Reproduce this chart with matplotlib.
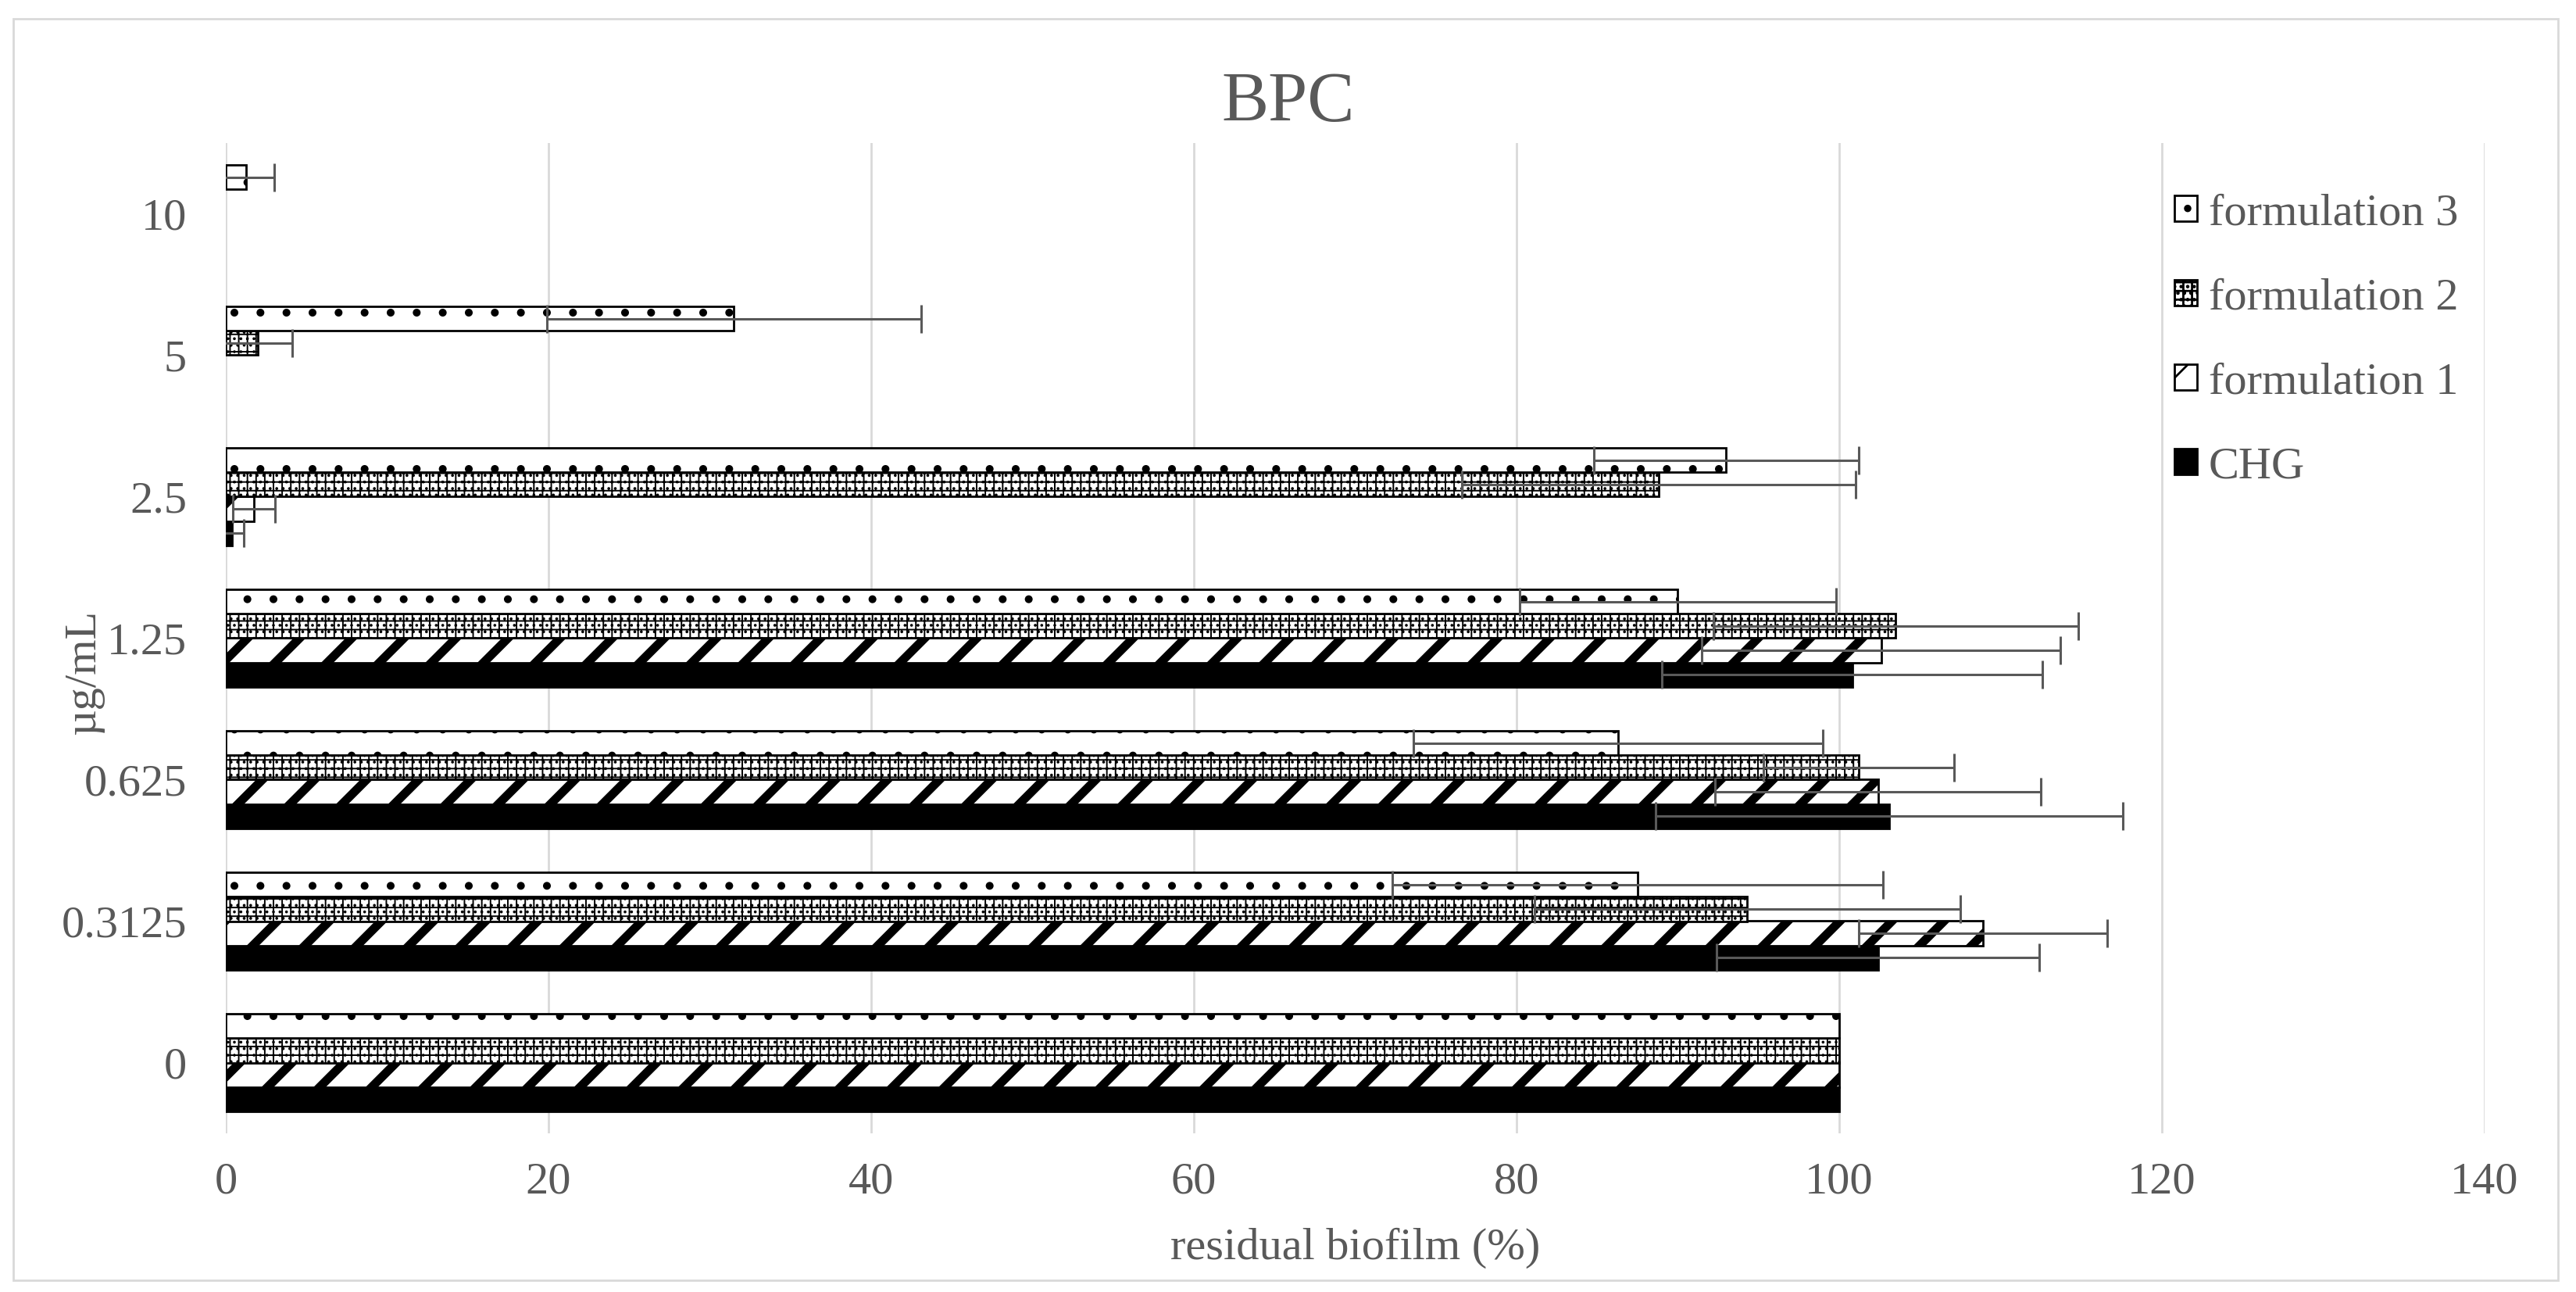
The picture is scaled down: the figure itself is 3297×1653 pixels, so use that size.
import numpy as np
import matplotlib
matplotlib.use('Agg')
import matplotlib.pyplot as plt
from matplotlib.patches import Rectangle

# Data
categories = ['0', '0.3125', '0.625', '1.25', '2.5', '5', '10']
series = ['CHG', 'formulation 1', 'formulation 2', 'formulation 3']
chg = [100, 102.4, 103.1, 100.8, 0.4, 0, 0]
chg_err = [0, 10.0, 14.5, 11.8, 0.7, 0, 0]
f1 = [100, 108.9, 102.4, 102.6, 1.75, 0, 0]
f1_err = [0, 7.7, 10.1, 11.1, 1.3, 0, 0]
f2 = [100, 94.3, 101.2, 103.5, 88.8, 2.0, 0]
f2_err = [0, 13.2, 5.9, 11.3, 12.2, 2.1, 0]
f3 = [100, 87.5, 86.3, 90.0, 93.0, 31.5, 1.25]
f3_err = [0, 15.2, 12.7, 9.8, 8.2, 11.6, 1.75]

values = [chg, f1, f2, f3]
errors = [chg_err, f1_err, f2_err, f3_err]
hatches = [None, '/', '+++....', '.']
hatch_lw = [1.0, 4.0, 0.7, 1.2]
faces = ['black', 'white', 'white', 'white']

txt = '#595959'
plt.rcParams['font.family'] = ['Liberation Serif', 'DejaVu Serif']
fs = 21

W, H = 3298, 1653
fig = plt.figure(figsize=(W / 200, H / 200), dpi=200)
ax = fig.add_axes([289 / W, 1 - 1450 / H, (3180 - 289) / W, (1450 - 183) / H])

y = np.arange(len(categories))
h = 0.172
for i, (vals, errs) in enumerate(zip(values, errors)):
    off = (i - 1.5) * h
    lws = [0 if v == 0 else 1.0 for v in vals]
    with plt.rc_context({'hatch.linewidth': hatch_lw[i]}):
        bars = ax.barh(y + off, vals, height=h, color=faces[i], edgecolor='black',
                       linewidth=lws, hatch=hatches[i], label=series[i], zorder=2)
    for b in bars:
        if hasattr(b, 'set_hatch_linewidth'):
            b.set_hatch_linewidth(hatch_lw[i])
    mask = np.array(errs) > 0
    ax.errorbar(np.array(vals)[mask], (y + off)[mask], xerr=np.array(errs)[mask],
                fmt='none', ecolor='#595959', elinewidth=1.1, capsize=6.5,
                capthick=1.1, zorder=3)

ax.set_xlim(0, 140)
ax.set_ylim(-0.5, len(categories) - 0.5)
ax.set_xticks(np.arange(0, 141, 20))
ax.set_yticks(y)
ax.set_yticklabels(categories)
ax.grid(axis='x', color='#d9d9d9', linewidth=1.0, zorder=0)
ax.set_axisbelow(True)
for s in ax.spines.values():
    s.set_visible(False)
ax.tick_params(axis='both', length=0, labelsize=fs, labelcolor=txt)
ax.tick_params(axis='x', pad=13)
ax.tick_params(axis='y', pad=18)

ax.set_xlabel('residual biofilm (%)', fontsize=fs, color=txt)
ax.set_ylabel('µg/mL', fontsize=fs, color=txt)
ax.xaxis.set_label_coords(0.5, -0.095)
ax.yaxis.set_label_coords(-0.054, 0.466)

fig.text(0.5, 1 - 155 / H, 'BPC', ha='center', va='baseline', fontsize=32.5, color=txt)

handles, labels = ax.get_legend_handles_labels()
leg = fig.legend(handles[::-1], labels[::-1], loc='upper left',
                 bbox_to_anchor=(2783 / W, 1 - 247 / H), frameon=False,
                 fontsize=fs, labelcolor=txt, handlelength=0.5, handleheight=0.5,
                 handletextpad=0.25, labelspacing=0.96, borderpad=0, borderaxespad=0)

fig.add_artist(Rectangle((17 / W, 1 - 1638 / H), (3274 - 17) / W, (1638 - 24) / H,
                         transform=fig.transFigure, fill=False, edgecolor='#d9d9d9',
                         linewidth=1.0))

fig.savefig('out.png', dpi=200, facecolor='white')
